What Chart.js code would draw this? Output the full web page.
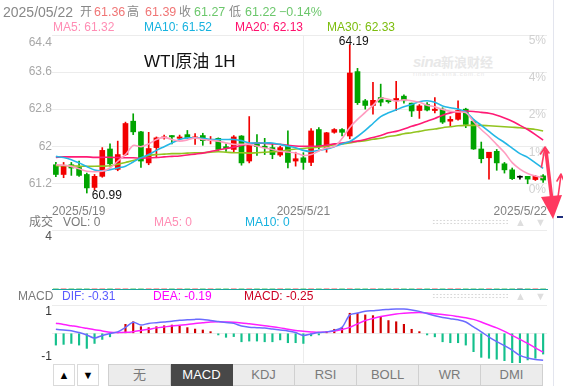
<!DOCTYPE html>
<html lang="zh">
<head>
<meta charset="utf-8">
<title>WTI原油 1H</title>
<script src="https://cdn.jsdelivr.net/npm/chart.js@4.4.1/dist/chart.umd.min.js"></script>
<style>
  html, body { margin: 0; padding: 0; background: #fff; }
  body {
    position: relative; width: 563px; height: 386px; overflow: hidden;
    font-family: "Liberation Sans", Arial, "Noto Sans CJK SC", sans-serif;
    font-size: 12px; color: #888;
  }
  canvas { position: absolute; left: 0; z-index: 1; }
  .t { position: absolute; white-space: nowrap; z-index: 2; line-height: 14px; }
  .up { color: #f07676; }
  .dn { color: #6cc76c; }
  .c5 { color: #ff8db4; }
  .c10 { color: #16b2df; }
  .c20 { color: #ff0f6c; }
  .c30 { color: #7cbd0e; }
  .dots {
    position: absolute; z-index: 2; width: 76px; height: 6px;
    background-image: radial-gradient(circle, #d8d8d8 0.8px, transparent 1.1px);
    background-size: 3.5px 3px;
  }
  .tri { position: absolute; z-index: 2; color: #dedede; font-size: 11px; line-height: 12px; }
  #wm { position: absolute; z-index: 0; left: 413px; top: 52px; color: #e8e8e8; white-space: nowrap; }
  .btn {
    position: absolute; top: 364px; height: 20px; border: 1px solid #dadada; background: #fff;
    text-align: center; line-height: 20px; font-size: 11px; color: #000; z-index: 2;
  }
  #tabs { position: absolute; left: 108px; top: 364px; width: 435px; height: 22px; display: flex; z-index: 2; }
  #tabs div {
    flex: 1; box-sizing: border-box; border: 1px solid #d0d0d0; border-left: none;
    background: #ececec; color: #7a7a7a; font-size: 13px; text-align: center; line-height: 20px;
  }
  #tabs div:first-child { border-left: 1px solid #d0d0d0; }
  #tabs div.on { background: #484848; color: #fff; border-color: #484848; }
  #edge { position: absolute; left: 553px; top: 0; width: 1px; height: 386px; background: #e3e5ee; z-index: 2; }
</style>
</head>
<body>

<div class="t" style="left:3px;top:4px;font-size:14px;line-height:16px;">2025/05/22</div>
<div class="t" style="left:80px;top:5px;font-size:12px;line-height:15px;">开</div>
<div class="t up" id="hOpen" style="left:94px;top:5px;font-size:12.5px;line-height:15px;"></div>
<div class="t" style="left:127px;top:5px;font-size:12px;line-height:15px;">高</div>
<div class="t up" id="hHigh" style="left:145px;top:5px;font-size:12.5px;line-height:15px;"></div>
<div class="t" style="left:179px;top:5px;font-size:12px;line-height:15px;">收</div>
<div class="t dn" id="hClose" style="left:194px;top:5px;font-size:12.5px;line-height:15px;"></div>
<div class="t" style="left:229px;top:5px;font-size:12px;line-height:15px;">低</div>
<div class="t dn" id="hLow" style="left:245px;top:5px;font-size:12.5px;line-height:15px;"></div>
<div class="t dn" style="left:279px;top:5px;font-size:12.5px;line-height:15px;">−0.14%</div>

<div class="t c5" id="lMa5" style="left:53px;top:20px;"></div>
<div class="t c10" id="lMa10" style="left:144px;top:20px;"></div>
<div class="t c20" id="lMa20" style="left:235px;top:20px;"></div>
<div class="t c30" id="lMa30" style="left:327px;top:20px;"></div>

<div class="t" style="left:144px;top:52px;font-size:17px;line-height:20px;color:#111;">WTI原油 1H</div>

<div id="wm">
  <span style="font-style:italic;font-weight:bold;font-size:15px;letter-spacing:-0.5px;">sina</span><span style="font-size:13px;font-weight:bold;">新浪财经</span>
  <div style="font-size:6px;line-height:7px;letter-spacing:1px;">finance.sina.com.cn</div>
</div>

<canvas id="mainChart" width="563" height="221" style="top:0"></canvas>
<canvas id="volChart" width="563" height="69" style="top:221px"></canvas>
<canvas id="macdChart" width="563" height="58" style="top:305px"></canvas>

<div class="t" style="left:29px;top:215px;color:#7a7a7a;">成交</div>
<div class="t" style="left:63px;top:215px;color:#7a7a7a;">VOL: 0</div>
<div class="t c5" style="left:154px;top:215px;">MA5: 0</div>
<div class="t c10" style="left:245px;top:215px;">MA10: 0</div>
<div class="dots" style="left:432px;top:219px;"></div>
<div class="tri" style="left:515px;top:216px;">▲</div>
<div class="tri" style="left:535px;top:216px;">▼</div>

<div class="t" style="left:18px;top:289px;color:#7a7a7a;">MACD</div>
<div class="t" style="left:62px;top:289px;color:#5a5aff;">DIF: -0.31</div>
<div class="t" style="left:153px;top:289px;color:#f0f;">DEA: -0.19</div>
<div class="t" style="left:244px;top:289px;color:#cc0022;">MACD: -0.25</div>
<div class="dots" style="left:432px;top:293px;"></div>
<div class="tri" style="left:515px;top:290px;">▲</div>
<div class="tri" style="left:535px;top:290px;">▼</div>

<div class="btn" style="left:53px;width:20px;">▲</div>
<div class="btn" style="left:77px;width:20px;">▼</div>
<div id="tabs">
  <div>无</div><div class="on">MACD</div><div>KDJ</div><div>RSI</div><div>BOLL</div><div>WR</div><div>DMI</div>
</div>

<div id="edge"></div>
<div style="position:absolute;left:557px;top:216px;width:6px;height:2px;background:#1e2d7c;z-index:2;"></div>

<svg width="563" height="386" style="position:absolute;left:0;top:0;z-index:3;pointer-events:none;">
  <g stroke="#ff3860" fill="none" stroke-linecap="round" stroke-linejoin="round">
    <path d="M541.5 167 L545 147 M540.5 154 L545 147 L549 153" stroke-width="1.6"/>
    <path d="M546 151 L552 201" stroke-width="3.5"/>
    <path d="M558 197 L561 175 M557 181 L561 174 L563.5 180" stroke-width="1.6"/>
  </g>
  <polygon points="541,197 562,195 553,219" fill="#ff3860"/>
</svg>

<script>
// hourly bars, numbered left to right
const bars = Array.from({ length: 64 }, (_, i) => i + 1);

const opens = [61.60, 61.39, 61.60, 61.54, 61.39, 61.11, 61.35, 61.94, 61.50, 61.82,
  62.54, 62.31, 61.64, 61.97, 62.18, 62.23, 62.17, 62.25, 62.18, 62.23,
  62.12, 62.17, 61.99, 61.93, 62.22, 61.68, 62.07, 62.00, 61.97, 61.81,
  62.00, 61.68, 61.75, 61.65, 62.36, 61.97, 62.30, 62.36, 62.22, 63.61,
  62.98, 62.88, 63.05, 62.99, 62.98, 63.08, 62.93, 62.77, 62.90, 62.77,
  62.80, 62.54, 62.58, 62.80, 62.54, 61.94, 61.75, 61.89, 61.62, 61.49,
  61.33, 61.35, 61.28, 61.36];
const highs = [61.65, 61.65, 61.65, 61.68, 61.42, 61.39, 61.97, 62.05, 62.11, 62.52,
  62.70, 62.32, 62.30, 62.20, 62.24, 62.23, 62.24, 62.34, 62.27, 62.28,
  62.21, 62.18, 62.05, 62.23, 62.23, 62.64, 62.25, 62.17, 62.05, 62.00,
  62.33, 61.87, 61.86, 62.38, 62.40, 62.30, 62.38, 62.38, 64.19, 63.68,
  63.01, 63.38, 63.34, 63.00, 63.40, 63.11, 62.93, 62.90, 62.94, 63.05,
  62.83, 62.64, 62.98, 62.82, 62.58, 62.09, 61.87, 61.93, 61.65, 61.53,
  61.36, 61.35, 61.37, 61.39];
const lows = [61.34, 61.32, 61.37, 61.35, 60.99, 61.06, 61.33, 61.57, 61.47, 61.80,
  62.25, 61.54, 61.60, 61.75, 62.15, 62.05, 62.15, 62.17, 62.04, 62.02,
  62.05, 61.91, 61.89, 61.86, 61.59, 61.64, 61.80, 61.82, 61.73, 61.78,
  61.53, 61.57, 61.50, 61.58, 61.94, 61.87, 62.28, 62.22, 62.16, 62.90,
  62.80, 62.69, 62.87, 62.93, 62.77, 62.93, 62.64, 62.60, 62.76, 62.72,
  62.49, 62.43, 62.56, 62.40, 61.93, 61.64, 61.29, 61.48, 61.42, 61.28,
  61.29, 61.19, 61.26, 61.22];
const closes = [61.39, 61.57, 61.53, 61.37, 61.10, 61.35, 61.91, 61.62, 61.82, 62.49,
  62.31, 61.68, 61.95, 62.18, 62.20, 62.20, 62.20, 62.18, 62.20, 62.12,
  62.15, 61.93, 61.95, 62.20, 61.64, 62.04, 61.99, 61.97, 61.82, 61.97,
  61.65, 61.73, 61.65, 62.33, 61.99, 62.29, 62.36, 62.30, 63.58, 62.94,
  62.88, 62.99, 62.95, 62.96, 63.03, 62.98, 62.76, 62.87, 62.78, 62.80,
  62.52, 62.58, 62.77, 62.47, 61.94, 61.73, 61.87, 61.64, 61.49, 61.30,
  61.33, 61.29, 61.35, 61.27];

const ma5 = [61.60, 61.59, 61.565, 61.515, 61.46, 61.45, 61.46, 61.53, 61.675, 61.82,
  62.015, 61.99, 62.05, 62.145, 62.19, 62.145, 62.11, 62.135, 62.18, 62.145,
  62.13, 62.11, 62.07, 62.04, 62.04, 62.04, 62.005, 61.96, 61.93, 61.89,
  61.875, 61.855, 61.80, 61.82, 61.895, 61.965, 61.99, 62.165, 62.405, 62.58,
  62.73, 62.88, 63.035, 63.01, 62.975, 63.00, 62.98, 62.95, 62.885, 62.85,
  62.795, 62.755, 62.74, 62.725, 62.535, 62.36, 62.21, 62.035, 61.865, 61.645,
  61.505, 61.41, 61.355, 61.32];
const ma10 = [61.78, 61.755, 61.71, 61.64, 61.56, 61.485, 61.47, 61.495, 61.53, 61.57,
  61.66, 61.75, 61.82, 61.91, 61.99, 62.07, 62.145, 62.18, 62.18, 62.17,
  62.145, 62.145, 62.145, 62.145, 62.12, 62.07, 62.07, 62.07, 62.07, 62.04,
  62.00, 61.965, 61.91, 61.885, 61.91, 61.94, 61.99, 62.05, 62.10, 62.21,
  62.34, 62.49, 62.64, 62.72, 62.785, 62.85, 62.90, 62.96, 62.98, 62.95,
  62.87, 62.83, 62.80, 62.74, 62.58, 62.45, 62.32, 62.19, 62.08, 61.96,
  61.84, 61.76, 61.64, 61.52];
const ma20 = [61.76, 61.77, 61.77, 61.77, 61.77, 61.76, 61.76, 61.76, 61.755, 61.75,
  61.75, 61.74, 61.75, 61.755, 61.77, 61.78, 61.79, 61.81, 61.83, 61.85,
  61.885, 61.92, 61.95, 61.98, 62.015, 62.05, 62.07, 62.06, 62.05, 62.04,
  62.02, 62.005, 62.00, 62.00, 62.005, 62.025, 62.05, 62.07, 62.09, 62.11,
  62.145, 62.19, 62.23, 62.29, 62.32, 62.37, 62.43, 62.48, 62.54, 62.60,
  62.67, 62.72, 62.75, 62.76, 62.75, 62.73, 62.71, 62.67, 62.61, 62.54,
  62.45, 62.36, 62.25, 62.13];
const ma30 = [61.58, 61.58, 61.575, 61.57, 61.566, 61.566, 61.57, 61.58, 61.61, 61.65,
  61.69, 61.74, 61.80, 61.82, 61.83, 61.84, 61.84, 61.85, 61.86, 61.86,
  61.87, 61.88, 61.87, 61.86, 61.86, 61.85, 61.86, 61.87, 61.88, 61.89,
  61.92, 61.94, 61.95, 61.97, 61.98, 62.00, 62.03, 62.05, 62.07, 62.10,
  62.12, 62.15, 62.17, 62.21, 62.23, 62.27, 62.29, 62.32, 62.35, 62.37,
  62.40, 62.42, 62.44, 62.45, 62.45, 62.45, 62.44, 62.43, 62.42, 62.41,
  62.40, 62.38, 62.36, 62.33];

const volumes = [0, 0, 0, 0, 0, 0, 0, 0, 0, 0, 0, 0, 0, 0, 0, 0,
  0, 0, 0, 0, 0, 0, 0, 0, 0, 0, 0, 0, 0, 0, 0, 0,
  0, 0, 0, 0, 0, 0, 0, 0, 0, 0, 0, 0, 0, 0, 0, 0,
  0, 0, 0, 0, 0, 0, 0, 0, 0, 0, 0, 0, 0, 0, 0, 0];

const dif = [0.17, 0.14, 0.11, 0.03, -0.07, -0.20, -0.09, -0.01, 0.06, 0.25,
  0.47, 0.35, 0.42, 0.45, 0.48, 0.51, 0.55, 0.57, 0.59, 0.59,
  0.54, 0.50, 0.46, 0.42, 0.31, 0.26, 0.24, 0.22, 0.18, 0.14,
  0.10, 0.03, -0.09, -0.03, 0.03, 0.06, 0.12, 0.25, 0.78, 0.86,
  0.93, 0.96, 0.99, 1.01, 1.03, 1.03, 0.99, 0.93, 0.84, 0.74,
  0.67, 0.62, 0.57, 0.48, 0.27, 0.06, -0.16, -0.35, -0.52, -0.71,
  -0.94, -1.05, -1.11, -1.14];
const dea = [0.43, 0.37, 0.32, 0.27, 0.21, 0.15, 0.10, 0.04, 0.03, 0.04,
  0.07, 0.12, 0.17, 0.23, 0.27, 0.31, 0.34, 0.37, 0.42, 0.45,
  0.48, 0.49, 0.48, 0.47, 0.44, 0.40, 0.36, 0.32, 0.28, 0.23,
  0.17, 0.12, 0.09, 0.06, 0.04, 0.06, 0.10, 0.16, 0.25, 0.40,
  0.54, 0.63, 0.71, 0.77, 0.82, 0.85, 0.87, 0.88, 0.86, 0.83,
  0.80, 0.76, 0.71, 0.66, 0.59, 0.48, 0.35, 0.23, 0.08, -0.09,
  -0.26, -0.43, -0.62, -0.80];
const macdHist = [-0.50, -0.47, -0.43, -0.50, -0.64, -0.43, -0.26, -0.15, 0.02, 0.38,
  0.49, 0.28, 0.24, 0.28, 0.32, 0.35, 0.31, 0.24, 0.18, 0.14,
  0.07, -0.07, -0.17, -0.14, -0.36, -0.33, -0.33, -0.36, -0.36, -0.28,
  -0.40, -0.40, -0.43, -0.11, -0.07, 0.07, 0.17, 0.24, 0.85, 0.85,
  0.78, 0.75, 0.68, 0.54, 0.49, 0.38, 0.17, 0.07, -0.07, -0.15,
  -0.36, -0.40, -0.40, -0.50, -0.78, -1.02, -1.06, -1.10, -1.16, -1.28,
  -1.25, -1.13, -1.06, -0.88];

const priceTicks = [61.2, 62, 62.8, 63.6, 64.4];
const pctTicks = ['0%', '1%', '2%', '4%', '5%'];
const volTicks = [4];
const macdTicks = [-1, 1];
const dateTicks = ['2025/5/19', '2025/5/21', '2025/5/22'];
const dateTickBars = [1, 33, 64];

const FONT = '"Liberation Sans", Arial, "Noto Sans CJK SC", sans-serif';
const UP = '#f20000', DOWN = '#00a400', FLAT = '#000000';
const GRID = '#ececec';
const candleColors = opens.map((o, i) => closes[i] > o ? UP : closes[i] < o ? DOWN : FLAT);
const dayLine = dateTickBars[1] - 1;

// header texts from the last bar
const last = opens.length - 1;
document.getElementById('hOpen').textContent = opens[last].toFixed(2);
document.getElementById('hHigh').textContent = highs[last].toFixed(2);
document.getElementById('hClose').textContent = closes[last].toFixed(2);
document.getElementById('hLow').textContent = lows[last].toFixed(2);
document.getElementById('lMa5').textContent = 'MA5: ' + ma5[last].toFixed(2);
document.getElementById('lMa10').textContent = 'MA10: ' + ma10[last].toFixed(2);
document.getElementById('lMa20').textContent = 'MA20: ' + ma20[last].toFixed(2);
document.getElementById('lMa30').textContent = 'MA30: ' + ma30[last].toFixed(2);

Chart.defaults.font.family = FONT;

function xAxis(border) {
  return {
    type: 'category',
    offset: true,
    ticks: { display: false, autoSkip: false },
    border: border || { display: false },
    grid: {
      offset: false,
      drawTicks: false,
      color: c => (c.tick && c.tick.value === dayLine ? GRID : 'rgba(0,0,0,0)')
    },
    afterFit: s => { s.height = 0; }
  };
}

function yAxis(min, max, tickValues, gridColor) {
  return {
    min: min,
    max: max,
    ticks: { display: false },
    border: { display: false },
    grid: { drawTicks: false, color: gridColor },
    afterBuildTicks: s => { s.ticks = tickValues.map(v => ({ value: v })); },
    afterFit: s => { s.width = 0; }
  };
}

const baseOpts = (pad) => ({
  responsive: false,
  animation: false,
  devicePixelRatio: 1,
  layout: { padding: pad },
  plugins: { legend: { display: false }, tooltip: { enabled: false } }
});

// main price panel
const mainText = {
  id: 'mainText',
  afterDraw(chart) {
    const { ctx, chartArea: a, scales: { x, y } } = chart;
    ctx.save();
    ctx.font = '12px ' + FONT;
    ctx.textBaseline = 'middle';

    ctx.fillStyle = '#a8a8a8';
    ctx.textAlign = 'right';
    priceTicks.forEach(v => ctx.fillText(String(v), a.left, Math.max(y.getPixelForValue(v), a.top + 8)));

    ctx.fillStyle = '#d0d0d0';
    priceTicks.forEach((v, i) => ctx.fillText(pctTicks[i], a.right - 1, y.getPixelForValue(v) + 6));

    ctx.fillStyle = '#808080';
    dateTicks.forEach((d, i) => {
      const first = i === 0, lastOne = i === dateTicks.length - 1;
      ctx.textAlign = first ? 'left' : lastOne ? 'right' : 'center';
      const px = first ? a.left : lastOne ? a.right : x.getPixelForValue(dateTickBars[i] - 1);
      ctx.fillText(d, px, a.bottom - 9);
    });

    // highest high and lowest low
    const hi = highs.indexOf(Math.max(...highs));
    const lo = lows.indexOf(Math.min(...lows));
    ctx.fillStyle = '#111';
    ctx.textAlign = 'center';
    ctx.fillText(highs[hi].toFixed(2), x.getPixelForValue(hi) + 4, y.getPixelForValue(highs[hi]) - 3);
    ctx.textAlign = 'left';
    ctx.fillText(lows[lo].toFixed(2), x.getPixelForValue(lo) + 5, y.getPixelForValue(lows[lo]) + 3);
    ctx.restore();
  }
};

new Chart(document.getElementById('mainChart'), {
  type: 'bar',
  data: {
    labels: bars,
    datasets: [
      { type: 'line', label: 'MA5', data: ma5, borderColor: '#ff9cc0', borderWidth: 1.6, pointRadius: 0, tension: 0.3, order: 0 },
      { type: 'line', label: 'MA10', data: ma10, borderColor: '#24b7e6', borderWidth: 1.6, pointRadius: 0, tension: 0.3, order: 0 },
      { type: 'line', label: 'MA20', data: ma20, borderColor: '#ff1a75', borderWidth: 1.6, pointRadius: 0, tension: 0.3, order: 0 },
      { type: 'line', label: 'MA30', data: ma30, borderColor: '#92c41f', borderWidth: 1.6, pointRadius: 0, tension: 0.3, order: 0 },
      {
        label: 'body', data: opens.map((o, i) => [o, closes[i]]),
        backgroundColor: candleColors, barThickness: 5, minBarLength: 1, grouped: false, order: 1
      },
      {
        label: 'wick', data: lows.map((l, i) => [l, highs[i]]),
        backgroundColor: candleColors, barThickness: 1, grouped: false, order: 2
      }
    ]
  },
  options: Object.assign(baseOpts({ left: 52, right: 16, top: 35, bottom: 0 }), {
    scales: {
      x: xAxis(),
      y: yAxis(60.386, 64.4, priceTicks, GRID)
    }
  }),
  plugins: [mainText]
});

// volume panel
const volText = {
  id: 'volText',
  afterDraw(chart) {
    const { ctx, chartArea: a, scales: { y } } = chart;
    ctx.save();
    ctx.font = '12px ' + FONT;
    ctx.fillStyle = '#555';
    ctx.textAlign = 'right';
    ctx.textBaseline = 'middle';
    volTicks.forEach(v => ctx.fillText(String(v), a.left, y.getPixelForValue(v) + 6.5));
    ctx.restore();
  }
};

new Chart(document.getElementById('volChart'), {
  type: 'bar',
  data: {
    labels: bars,
    datasets: [{ label: 'VOL', data: volumes, backgroundColor: candleColors, barThickness: 5 }]
  },
  options: Object.assign(baseOpts({ left: 52, right: 16, top: 0, bottom: 1 }), {
    scales: {
      x: xAxis({ display: true, color: '#1ca59f', width: 1 }),
      y: yAxis(0, 4.66, volTicks, GRID)
    }
  }),
  plugins: [volText]
});

// MACD panel
const macdText = {
  id: 'macdText',
  afterDraw(chart) {
    const { ctx, chartArea: a, scales: { y } } = chart;
    ctx.save();
    ctx.font = '12px ' + FONT;
    ctx.fillStyle = '#333';
    ctx.textAlign = 'right';
    ctx.textBaseline = 'middle';
    macdTicks.forEach(v => {
      const py = Math.min(Math.max(y.getPixelForValue(v), a.top + 7), a.bottom - 5);
      ctx.fillText(String(v), a.left, py);
    });
    ctx.restore();
  }
};

new Chart(document.getElementById('macdChart'), {
  type: 'bar',
  data: {
    labels: bars,
    datasets: [
      { type: 'line', label: 'DIF', data: dif, borderColor: '#6b6bff', borderWidth: 1.5, pointRadius: 0, tension: 0.3, order: 0 },
      { type: 'line', label: 'DEA', data: dea, borderColor: '#ff1fff', borderWidth: 1.5, pointRadius: 0, tension: 0.3, order: 0 },
      {
        label: 'MACD', data: macdHist,
        backgroundColor: macdHist.map(v => v >= 0 ? '#d00000' : '#14c08c'),
        barThickness: 1.5, order: 1
      }
    ]
  },
  options: Object.assign(baseOpts({ left: 52, right: 16, top: 0, bottom: 0 }), {
    scales: {
      x: xAxis(),
      y: yAxis(-1.26, 1.2, [-1, 0, 1, 1.2], c => (c.tick && (c.tick.value === 0 || c.tick.value === 1.2) ? GRID : 'rgba(0,0,0,0)'))
    }
  }),
  plugins: [macdText]
});
</script>
</body>
</html>
